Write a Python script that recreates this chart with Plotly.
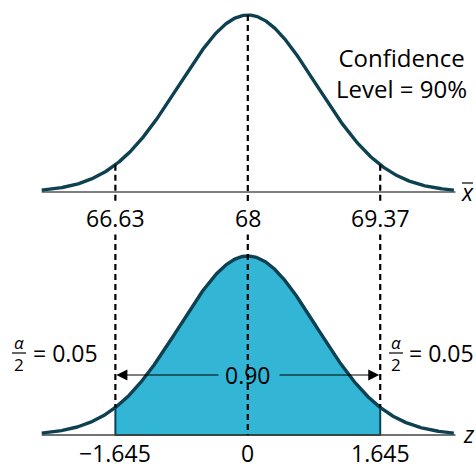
import numpy as np
import plotly.graph_objects as go

# Critical values of the 90% interval and the matching sample-mean values
z_crit = [-1.645, 0.0, 1.645]
xbar_labels = ["66.63", "68", "69.37"]
z_labels = ["\u22121.645", "0", "1.645"]
conf_text = "0.90"
tail_text = "= 0.05"

# Bell drawing parameters (z units)
curve_sd = 0.85
z_lim = 2.56

W, H = 476, 468
CURVE = "#0d4152"
FILL = "#33b6d6"
FONT = "Open Sans"

# pixel layout of the two panels (x shared)
px_per_z = 80.5
x_center_px = 247.8
x_range = [-x_center_px / px_per_z, (W - x_center_px) / px_per_z]

top_zero_px, top_peak_px = 192, 15
bot_zero_px, bot_peak_px = 435, 256
top_scale = top_zero_px - top_peak_px
bot_scale = bot_zero_px - bot_peak_px
top_range = [-(H / 2 - top_zero_px) / top_scale, -(H / 2 - top_zero_px) / top_scale + (H / 2) / top_scale]
bot_range = [-(H - bot_zero_px) / bot_scale, -(H - bot_zero_px) / bot_scale + (H / 2) / bot_scale]


def bell(v):
    return np.exp(-0.5 * (np.asarray(v) / curve_sd) ** 2)


def ty(px):  # pixel row -> top-panel units
    return (top_zero_px - px) / top_scale


def by(px):  # pixel row -> bottom-panel units
    return (bot_zero_px - px) / bot_scale


def zx(px):  # pixel column -> z units
    return (px - x_center_px) / px_per_z


zs = np.linspace(-z_lim, z_lim, 500)
lo, hi = z_crit[0], z_crit[-1]
zin = np.linspace(lo, hi, 300)

fig = go.Figure()

# top panel: horizontal axis and sampling distribution of the mean
fig.add_trace(go.Scatter(x=[-z_lim, z_lim + 0.02], y=[0, 0], mode="lines",
                         line=dict(color="#555555", width=1.6), xaxis="x", yaxis="y"))
fig.add_trace(go.Scatter(x=zs, y=bell(zs), mode="lines",
                         line=dict(color=CURVE, width=3.4), xaxis="x", yaxis="y"))

# bottom panel: shaded central 90% region of the standard normal
fig.add_trace(go.Scatter(x=np.concatenate([zin, [hi, lo, lo]]),
                         y=np.concatenate([bell(zin), [0, 0, bell(lo)]]),
                         mode="lines", fill="toself", fillcolor=FILL,
                         line=dict(color=CURVE, width=2), xaxis="x2", yaxis="y2"))
fig.add_trace(go.Scatter(x=[-z_lim, z_lim + 0.02], y=[0, 0], mode="lines",
                         line=dict(color="#444444", width=1.6), xaxis="x2", yaxis="y2"))
fig.add_trace(go.Scatter(x=zs, y=bell(zs), mode="lines",
                         line=dict(color=CURVE, width=3.4), xaxis="x2", yaxis="y2"))

shapes = []
dash = dict(color="black", width=2.2, dash="6px,4px")
for zc in z_crit:
    # top segment from the curve down to the panel edge
    shapes.append(dict(type="line", xref="x", yref="y", x0=zc, x1=zc,
                       y0=float(bell(zc)), y1=top_range[0], line=dash))
    # bottom segment from panel edge down to the curve (outer) or the axis (centre)
    y_end = 0.0 if zc == 0 else float(bell(zc))
    shapes.append(dict(type="line", xref="x2", yref="y2", x0=zc, x1=zc,
                       y0=bot_range[1], y1=y_end, line=dash))

# fraction bars for alpha/2
for cx in (19, 396):
    shapes.append(dict(type="line", xref="x2", yref="y2", x0=zx(cx - 7), x1=zx(cx + 7),
                       y0=by(353), y1=by(353), line=dict(color="black", width=1.2)))
# overbar of x-bar
shapes.append(dict(type="line", xref="x", yref="y", x0=zx(462), x1=zx(473),
                   y0=ty(183), y1=ty(183), line=dict(color="black", width=1.2)))

ann = []
big = dict(family=FONT, size=23, color="black")
small = dict(family=FONT, size=17, color="black")
for zc, lab in zip(z_crit, xbar_labels):
    ann.append(dict(x=zc, y=ty(218), xref="x", yref="y", text=lab, showarrow=False,
                    font=big, bgcolor="white", borderpad=0))
for zc, lab in zip(z_crit, z_labels):
    ann.append(dict(x=zc, y=by(453), xref="x2", yref="y2", text=lab, showarrow=False,
                    font=big, bgcolor="white", borderpad=0))

ann.append(dict(x=zx(401), y=ty(73), xref="x", yref="y", text="Confidence<br>Level = 90%",
                showarrow=False, font=dict(family=FONT, size=24, color="black"), align="center"))
ann.append(dict(x=zx(467), y=ty(192), xref="x", yref="y", text="<i>x</i>",
                showarrow=False, font=big))
ann.append(dict(x=zx(469), y=by(434), xref="x2", yref="y2", text="<i>z</i>",
                showarrow=False, font=big))

# central area label with arrows out to the critical values
arrow_y = by(375)
ann.append(dict(x=0, y=arrow_y, xref="x2", yref="y2", text=conf_text,
                showarrow=False, font=big))
for head, tail in ((lo, zx(220)), (hi, zx(278))):
    ann.append(dict(x=head, y=arrow_y, ax=tail, ay=arrow_y, xref="x2", yref="y2",
                    axref="x2", ayref="y2", text="", showarrow=True, arrowhead=2,
                    arrowsize=2.2, arrowwidth=1, arrowcolor="black", standoff=1))

# alpha/2 = 0.05 in each tail
for cx, tx in ((19, 65), (396, 441)):
    ann.append(dict(x=zx(cx), y=by(342), xref="x2", yref="y2", text="<i>\u03b1</i>",
                    showarrow=False, font=small))
    ann.append(dict(x=zx(cx), y=by(364), xref="x2", yref="y2", text="2",
                    showarrow=False, font=small))
    ann.append(dict(x=zx(tx), y=by(353), xref="x2", yref="y2", text=tail_text,
                    showarrow=False, font=big))

hidden = dict(visible=False, showgrid=False, zeroline=False, fixedrange=True)
fig.update_layout(
    width=W, height=H, margin=dict(l=0, r=0, t=0, b=0),
    paper_bgcolor="white", plot_bgcolor="white", showlegend=False,
    xaxis=dict(domain=[0, 1], range=x_range, anchor="y", **hidden),
    yaxis=dict(domain=[0.5, 1], range=top_range, anchor="x", **hidden),
    xaxis2=dict(domain=[0, 1], range=x_range, anchor="y2", **hidden),
    yaxis2=dict(domain=[0, 0.5], range=bot_range, anchor="x2", **hidden),
    shapes=shapes, annotations=ann,
)

fig.write_html("out.html")
